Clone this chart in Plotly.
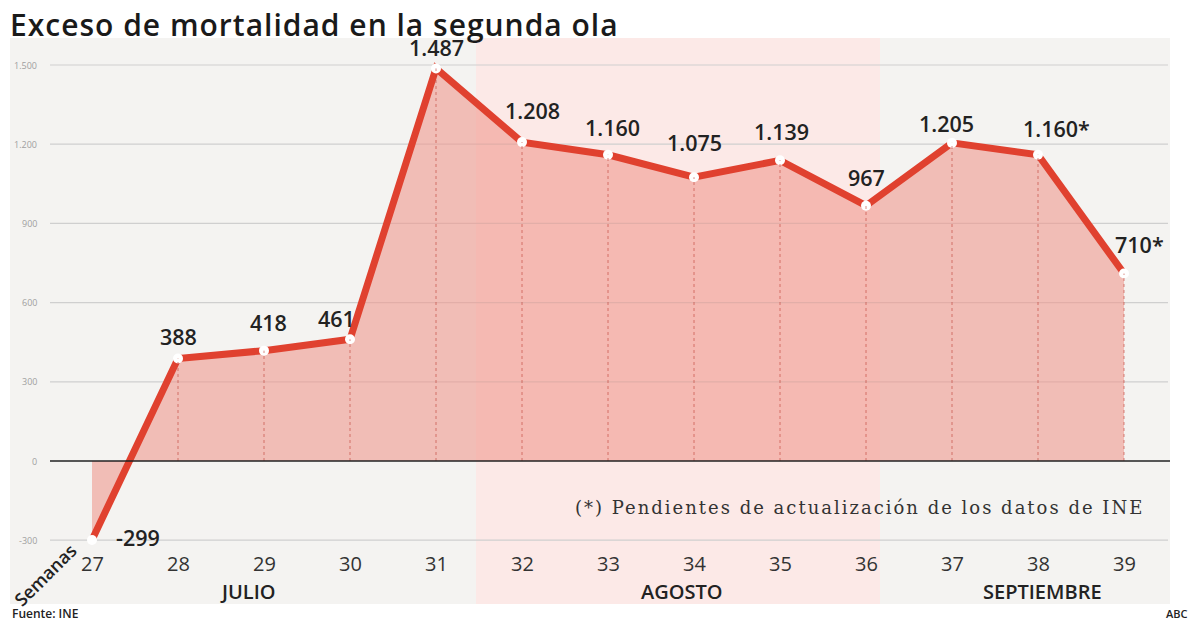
import plotly.graph_objects as go

# ---- data ----
weeks = [27, 28, 29, 30, 31, 32, 33, 34, 35, 36, 37, 38, 39]
excess = [-299, 388, 418, 461, 1487, 1208, 1160, 1075, 1139, 967, 1205, 1160, 710]
value_labels = ["-299", "388", "418", "461", "1.487", "1.208", "1.160", "1.075",
                "1.139", "967", "1.205", "1.160*", "710*"]
y_ticks = [-300, 0, 300, 600, 900, 1200, 1500]
y_tick_labels = ["-300", "0", "300", "600", "900", "1.200", "1.500"]
months = ["JULIO", "AGOSTO", "SEPTIEMBRE"]
month_centers = [28.81, 33.86, 38.05]

# label offsets (px) per point (style only)
label_dx = [46, 0, 4, -14, 0, 10, 4, 0, 1, 0, -6, 18, 15]
label_dy = [2, 22, 28, 21, 21, 32, 27, 35, 29, 28, 19, 26, 29]

# page body has an 8px margin: figure sized to fit the 1200x630 window
OFF = 8
W, H = 1200 - 2 * OFF, 630 - 2 * OFF
X0PX, XSTEP = 92 - OFF, 86          # week 27 position and step (px)
Y0PX, YSCALE = 461 - OFF, 0.264     # zero line position and px per unit
x_range = [27 - X0PX / XSTEP, 27 + (W - X0PX) / XSTEP]
y_range = [(Y0PX - H) / YSCALE, Y0PX / YSCALE]


def px(xp):
    return (xp - OFF) / W


def py(yp):
    return 1 - (yp - OFF) / H


fig = go.Figure()

# fill area
fig.add_trace(go.Scatter(
    x=weeks, y=excess, mode="lines", fill="tozeroy",
    fillcolor="rgba(240,150,140,0.58)", line=dict(width=0, color="rgba(0,0,0,0)"),
    hoverinfo="skip", showlegend=False))

# dotted drop lines
for w, v in zip(weeks[1:], excess[1:]):
    fig.add_shape(type="line", x0=w, x1=w, y0=0, y1=v, xref="x", yref="y",
                  line=dict(color="rgba(190,60,50,0.6)", width=1, dash="dot"), layer="above")

# main line
fig.add_trace(go.Scatter(
    x=weeks, y=excess, mode="lines", line=dict(color="#e0412f", width=7),
    hoverinfo="skip", showlegend=False))
# markers (white dots)
fig.add_trace(go.Scatter(
    x=weeks, y=excess, mode="markers",
    marker=dict(color="white", size=10, line=dict(width=0)),
    hoverinfo="skip", showlegend=False))

shapes = []
# grey background panel
shapes.append(dict(type="rect", xref="paper", yref="paper", x0=px(10), x1=px(1170),
                   y0=py(604), y1=py(38), fillcolor="#f4f3f1", line=dict(width=0), layer="below"))
# pink August band
shapes.append(dict(type="rect", xref="paper", yref="paper", x0=px(476), x1=px(880),
                   y0=py(604), y1=py(38), fillcolor="#fce9e7", line=dict(width=0), layer="below"))
# gridlines
for t in y_ticks:
    if t == 0:
        continue
    shapes.append(dict(type="line", xref="paper", yref="y", x0=px(50), x1=px(1168), y0=t, y1=t,
                       line=dict(color="#cfcfcf", width=1.2), layer="below"))
# zero line
shapes.append(dict(type="line", xref="paper", yref="y", x0=px(50), x1=px(1170), y0=0, y1=0,
                   line=dict(color="#222222", width=1.6), layer="above"))
for s in shapes:
    fig.add_shape(**s)

ann = []
# title
ann.append(dict(text='<span style="letter-spacing:1px">Exceso de mortalidad en la segunda ola</span>',
                xref="paper", yref="paper",
                x=px(8), y=py(24), xanchor="left", yanchor="middle", showarrow=False,
                font=dict(family="Open Sans", size=30, weight=600, color="#1a1a1a")))
# y tick labels
for t, lab in zip(y_ticks, y_tick_labels):
    ann.append(dict(text=lab, xref="paper", yref="y", x=px(39), y=t, xanchor="right",
                    yanchor="middle", showarrow=False,
                    font=dict(family="Open Sans", size=9, color="#a0a0a0")))
# value labels
for w, v, lab, dx, dy in zip(weeks, excess, value_labels, label_dx, label_dy):
    ann.append(dict(text=lab, xref="x", yref="y", x=w, y=v, xshift=dx, yshift=dy,
                    showarrow=False, xanchor="center", yanchor="middle",
                    font=dict(family="Open Sans", size=21.5, weight=600, color="#222222")))
# x tick labels
for w in weeks:
    ann.append(dict(text=str(w), xref="x", yref="paper", x=w, y=py(563), showarrow=False,
                    xanchor="center", yanchor="middle",
                    font=dict(family="Open Sans", size=20, color="#333333")))
# month labels
for m, c in zip(months, month_centers):
    ann.append(dict(text=m, xref="x", yref="paper", x=c, y=py(591), showarrow=False,
                    xanchor="center", yanchor="middle",
                    font=dict(family="Open Sans", size=20, weight=600, color="#222222")))
# Semanas
ann.append(dict(text="Semanas", xref="paper", yref="paper", x=px(45), y=py(575), textangle=-45,
                showarrow=False, xanchor="center", yanchor="middle",
                font=dict(family="Open Sans", size=18, weight=600, color="#222222")))
# note
ann.append(dict(text='<span style="letter-spacing:2px">(*) Pendientes de actualización de los datos de INE</span>',
                xref="paper", yref="paper",
                x=px(1146), y=py(507), xanchor="right", yanchor="middle", showarrow=False,
                font=dict(family="DejaVu Serif", size=18, color="#333333")))
# source & credit
ann.append(dict(text="Fuente: INE", xref="paper", yref="paper", x=px(10), y=py(613), xanchor="left",
                yanchor="middle", showarrow=False,
                font=dict(family="Open Sans", size=12, weight=600, color="#222222")))
ann.append(dict(text="ABC", xref="paper", yref="paper", x=px(1190), y=py(613), xanchor="right",
                yanchor="middle", showarrow=False,
                font=dict(family="Open Sans", size=11, weight=600, color="#222222")))

fig.update_layout(
    width=W, height=H, margin=dict(l=0, r=0, t=0, b=0),
    paper_bgcolor="white", plot_bgcolor="rgba(0,0,0,0)",
    xaxis=dict(range=x_range, visible=False, domain=[0, 1], fixedrange=True),
    yaxis=dict(range=y_range, visible=False, domain=[0, 1], fixedrange=True),
    annotations=ann, showlegend=False,
)

fig.write_html("out.html")
